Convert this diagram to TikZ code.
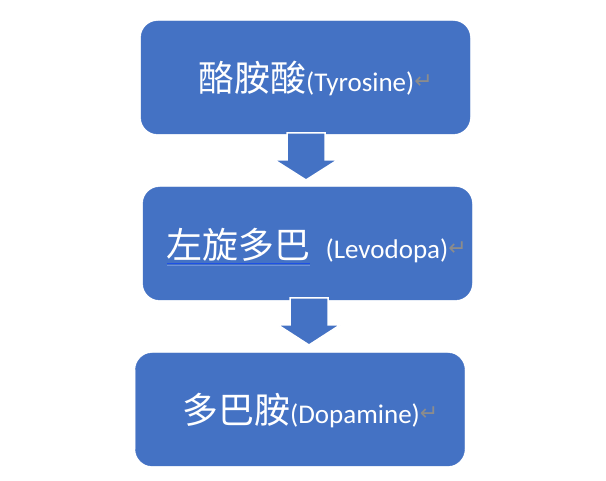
\documentclass[tikz,border=0pt]{standalone}
\usepackage{fontspec}
\setmainfont{Carlito}
\newfontfamily\cjk{Noto Sans CJK TC}
\newfontfamily\symf{DejaVu Sans}
\usetikzlibrary{calc}
\definecolor{boxblue}{HTML}{4472C4}
\definecolor{pmark}{HTML}{8C8C8C}
\definecolor{ulblue}{HTML}{1E50E6}
\definecolor{ullight}{HTML}{6F93DA}
\newcommand{\cjktext}[1]{{\cjk\fontsize{36}{36}\selectfont #1}}
\newcommand{\lattext}[1]{{\fontsize{27}{27}\selectfont #1}}
\newcommand{\pmk}{{\symf\fontsize{22}{22}\selectfont\color{pmark}\raisebox{3pt}{↵}}}
\begin{document}
\begin{tikzpicture}[x=1pt,y=-1pt,
  stepbox/.style={draw=boxblue,fill=boxblue,rounded corners=17pt,inner sep=0pt,
    minimum width=329pt,minimum height=113pt},
  label/.style={text=white,inner sep=0pt,anchor=base west},
  blockarrow/.style={fill=boxblue,draw=white,line width=1.5pt,line join=miter}]
\useasboundingbox (0,0) rectangle (606,481);
\fill[white] (0,0) rectangle (606,481);
% boxes
\node[stepbox] (b1) at (305.5,77.5) {};
\node[stepbox] (b2) at (307.5,243.5) {};
\node[stepbox] (b3) at (300,409.5) {};
% arrows
\coordinate (a1) at (306,133);
\coordinate (a2) at (309,298);
\draw[blockarrow] (a1) ++(-19,0) -- ++(38,0) -- ++(0,27) -- ++(12.5,0) -- ++(-31.5,20) -- ++(-31.5,-20) -- ++(12.5,0) -- cycle;
\draw[blockarrow] (a2) ++(-19,0) -- ++(38,0) -- ++(0,27) -- ++(12,0) -- ++(-31,20) -- ++(-31,-20) -- ++(12,0) -- cycle;
% texts
\node[label] (t1) at (198,92) {\cjktext{酪胺酸}\lattext{(Tyrosine)}\pmk};
\node[label] (t2a) at (166,259) {\cjktext{左旋多巴}};
\node[label] (t2b) at ($(t2a.base east)+(15,0)$) {\lattext{(Levodopa)}\pmk};
\draw[ullight,line width=0.7pt] ($(t2a.base west)+(1,6.2)$) -- ($(t2a.base east)+(0,6.2)$);
\draw[ulblue,line width=1.5pt] ($(t2a.base west)+(1,4.5)$) -- ($(t2a.base east)+(0,4.5)$);
\node[label] (t3) at (182,424) {\cjktext{多巴胺}\lattext{(Dopamine)}\pmk};
\end{tikzpicture}
\end{document}
